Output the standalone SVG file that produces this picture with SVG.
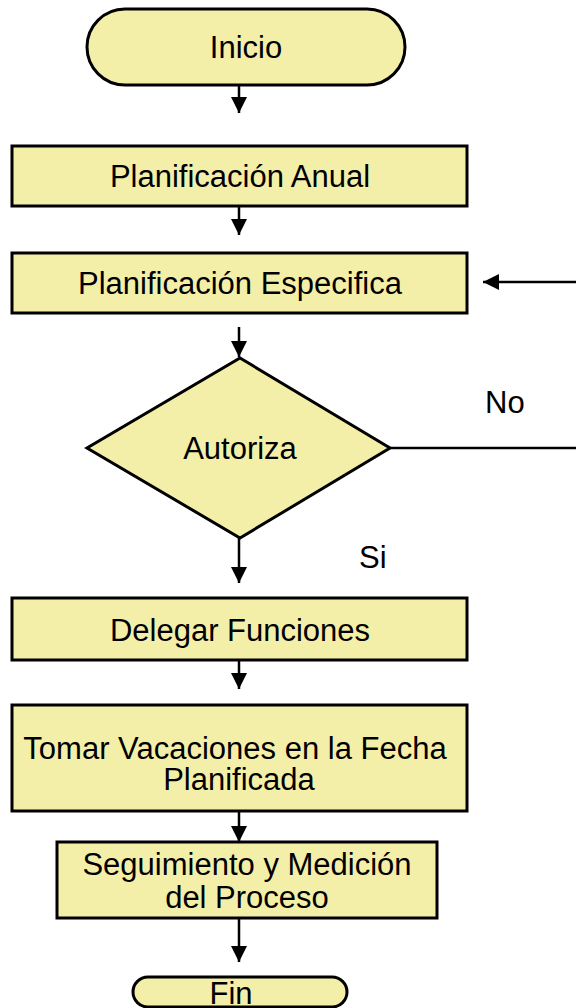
<svg xmlns="http://www.w3.org/2000/svg" width="576" height="1008" viewBox="0 0 576 1008">
<style>
.shape{fill:#F4EFA8;stroke:#000;stroke-width:3}
.t{font-family:"Liberation Sans",Arial,sans-serif;font-size:31px;fill:#000;text-anchor:middle}
.lbl{font-family:"Liberation Sans",Arial,sans-serif;font-size:31px;fill:#000}
.c{stroke:#000;stroke-width:2.5;fill:none}
</style>
<defs>
<marker id="ah" markerUnits="userSpaceOnUse" markerWidth="18" markerHeight="18" viewBox="0 0 18 18" refX="16" refY="9" orient="auto">
<path d="M0,1 L16,9 L0,17 Z" fill="#000"/>
</marker>
</defs>
<rect width="576" height="1008" fill="#fff"/>
<g id="connectors">
<line class="c" x1="239" y1="85" x2="239" y2="113" marker-end="url(#ah)"/>
<line class="c" x1="239" y1="206" x2="239" y2="235" marker-end="url(#ah)"/>
<line class="c" x1="576" y1="282" x2="483" y2="282" marker-end="url(#ah)"/>
<line class="c" x1="239" y1="327" x2="239" y2="357" marker-end="url(#ah)"/>
<line class="c" x1="390" y1="448" x2="576" y2="448"/>
<line class="c" x1="239" y1="538" x2="239" y2="583" marker-end="url(#ah)"/>
<line class="c" x1="239" y1="660" x2="239" y2="689" marker-end="url(#ah)"/>
<line class="c" x1="239" y1="811" x2="239" y2="842" marker-end="url(#ah)"/>
<line class="c" x1="239" y1="918" x2="239" y2="962" marker-end="url(#ah)"/>
<text class="lbl" x="485" y="413">No</text>
<text class="lbl" x="359" y="568">Si</text>
</g>
<g id="inicio">
<rect class="shape" x="87" y="9" width="318" height="76" rx="38" ry="38"/>
<text class="t" x="246" y="58">Inicio</text>
</g>
<g id="planificacion-anual">
<rect class="shape" x="12" y="146" width="455" height="60"/>
<text class="t" x="240" y="187">Planificación Anual</text>
</g>
<g id="planificacion-especifica">
<rect class="shape" x="12" y="253" width="455" height="60"/>
<text class="t" x="240" y="294">Planificación Especifica</text>
</g>
<g id="autoriza">
<polygon class="shape" points="240,358 390,448 240,538 87,448"/>
<text class="t" x="240" y="459">Autoriza</text>
</g>
<g id="delegar">
<rect class="shape" x="12" y="598" width="455" height="62"/>
<text class="t" x="240" y="641">Delegar Funciones</text>
</g>
<g id="tomar">
<rect class="shape" x="12" y="705" width="455" height="106"/>
<text class="t" x="235" y="759">Tomar Vacaciones en la Fecha</text>
<text class="t" x="239" y="790">Planificada</text>
</g>
<g id="seguimiento">
<rect class="shape" x="57" y="842" width="380" height="76"/>
<text class="t" x="247" y="875">Seguimiento y Medición</text>
<text class="t" x="247" y="908">del Proceso</text>
</g>
<g id="fin">
<rect class="shape" x="133" y="977" width="214" height="30" rx="15" ry="15"/>
<text class="t" x="231" y="1004">Fin</text>
</g>
</svg>
